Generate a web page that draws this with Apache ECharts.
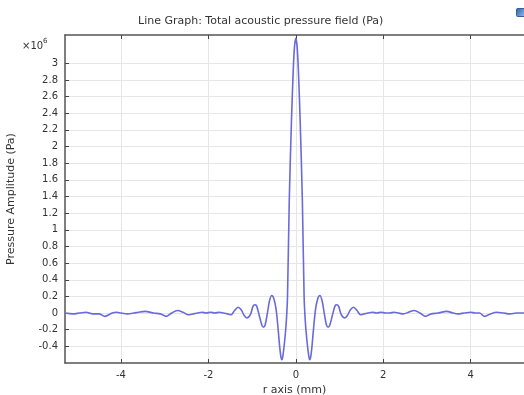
<!DOCTYPE html>
<html>
<head>
<meta charset="utf-8">
<script src="https://cdn.jsdelivr.net/npm/echarts@6/dist/echarts.min.js"></script>
<style>
  html, body { margin: 0; padding: 0; background: #fff; }
  #chart { width: 524px; height: 395px; }
</style>
</head>
<body>
<div id="chart"></div>
<script>
// r axis (mm)
const rValues = [
  -5.28, -5.1, -4.95, -4.8, -4.65, -4.5, -4.37, -4.2, -4.1, -4.0, -3.85, -3.7, -3.6, -3.45, -3.25,
  -3.1, -2.96, -2.84, -2.71, -2.58, -2.46, -2.35, -2.25, -2.15, -2.05, -1.95, -1.85, -1.75, -1.65,
  -1.56, -1.48, -1.4, -1.32, -1.25, -1.18, -1.12, -1.04, -0.98, -0.94, -0.9, -0.84, -0.78, -0.74,
  -0.7, -0.65, -0.6, -0.55, -0.5, -0.45, -0.4, -0.37, -0.34, -0.32, -0.3, -0.26, -0.22, -0.19, -0.15, -0.1, -0.06, -0.03,
  0,
  0.03, 0.06, 0.1, 0.15, 0.19, 0.22, 0.26, 0.3, 0.32, 0.34, 0.37, 0.4, 0.45, 0.5, 0.55, 0.6, 0.65, 0.7, 0.74, 0.78,
  0.84, 0.9, 0.94, 0.98, 1.04, 1.12, 1.18, 1.25, 1.32, 1.4, 1.48, 1.56, 1.65, 1.75, 1.85, 1.95,
  2.05, 2.15, 2.25, 2.35, 2.46, 2.58, 2.71, 2.84, 2.96, 3.1, 3.25, 3.45, 3.6, 3.7, 3.85, 4.0, 4.1,
  4.2, 4.32, 4.45, 4.6, 4.75, 4.9, 5.05, 5.22
];
// pressure amplitude (x10^6 Pa)
const pressure = [
  0.0, -0.01, 0.0, 0.01, -0.01, -0.01, -0.04, 0.0, 0.01, 0.0, -0.01, 0.0, 0.01, 0.02, 0.0,
  -0.01, -0.04, 0.0, 0.03, 0.01, -0.02, -0.01, 0.0, 0.01, 0.0, 0.01, 0.0, 0.01, 0.0,
  -0.01, -0.02, 0.03, 0.07, 0.04, -0.03, -0.06, -0.02, 0.08, 0.1, 0.09, -0.02, -0.14, -0.17,
  -0.14, 0.0, 0.15, 0.21, 0.17, 0.04, -0.22, -0.4, -0.53, -0.56, -0.53, -0.36, -0.12, 0.2, 1.35, 2.3, 2.9, 3.2,
  3.3,
  3.2, 2.9, 2.3, 1.35, 0.2, -0.12, -0.36, -0.53, -0.56, -0.53, -0.4, -0.22, 0.04, 0.17, 0.21, 0.15, 0.0, -0.14, -0.17, -0.14,
  -0.02, 0.09, 0.1, 0.08, -0.02, -0.06, -0.03, 0.04, 0.07, 0.03, -0.02, -0.01, 0.0, 0.01, 0.0, 0.01,
  0.0, 0.0, 0.01, 0.0, -0.01, 0.01, 0.03, 0.0, -0.04, -0.01, 0.0, 0.02, 0.0, -0.01, 0.0, 0.01, 0.0,
  0.0, -0.04, -0.01, 0.01, 0.0, -0.01, 0.0, 0.0
];
const xTicks = [-4, -2, 0, 2, 4];
const yTicks = [-0.4, -0.2, 0, 0.2, 0.4, 0.6, 0.8, 1, 1.2, 1.4, 1.6, 1.8, 2, 2.2, 2.4, 2.6, 2.8, 3];

const font = 'DejaVu Sans';
const chart = echarts.init(document.getElementById('chart'));

const gridLine = { show: true, lineStyle: { color: '#e6e6e6', width: 1 } };
const frameLine = { show: true, onZero: false, lineStyle: { color: '#555', width: 1.5 } };

chart.setOption({
  animation: false,
  backgroundColor: '#fff',
  title: {
    text: 'Line Graph: Total acoustic pressure field (Pa)',
    left: 133,
    top: 11,
    textStyle: { fontFamily: font, fontSize: 11, fontWeight: 'normal', color: '#333' }
  },
  grid: { left: 65, right: 0, top: 35, bottom: 32, containLabel: false, outerBoundsMode: 'none' },
  xAxis: [
    {
      type: 'value',
      min: -5.28,
      max: 5.22,
      name: 'r axis (mm)',
      nameLocation: 'middle',
      nameGap: 19,
      nameTextStyle: { fontFamily: font, fontSize: 11, color: '#333' },
      axisLine: frameLine,
      axisTick: { show: true, inside: true, length: 4, customValues: xTicks, lineStyle: { color: '#444' } },
      axisLabel: { customValues: xTicks, fontFamily: font, fontSize: 10, color: '#333', margin: 7 },
      splitLine: gridLine
    },
    {
      type: 'value',
      position: 'top',
      min: -5.28,
      max: 5.22,
      axisLine: frameLine,
      axisTick: { show: true, inside: true, length: 4, customValues: xTicks, lineStyle: { color: '#444' } },
      axisLabel: { show: false },
      splitLine: { show: false }
    }
  ],
  yAxis: {
    type: 'value',
    min: -0.6,
    max: 3.34,
    name: 'Pressure Amplitude (Pa)',
    nameLocation: 'middle',
    nameGap: 48,
    nameTextStyle: { fontFamily: font, fontSize: 11, color: '#333' },
    axisLine: frameLine,
    axisTick: { show: true, inside: true, length: 4, customValues: yTicks, lineStyle: { color: '#444' } },
    axisLabel: {
      customValues: yTicks,
      fontFamily: font,
      fontSize: 10,
      color: '#333',
      margin: 7,
      formatter: v => String(Math.round(v * 10) / 10)
    },
    splitLine: gridLine
  },
  graphic: [
    {
      type: 'text',
      left: 22,
      top: 38,
      style: {
        text: '{b|×10}{s|6}',
        rich: {
          b: { fontFamily: font, fontSize: 10, fill: '#333', verticalAlign: 'bottom' },
          s: { fontFamily: font, fontSize: 7, fill: '#333', verticalAlign: 'top', padding: [0, 0, 6, 0] }
        }
      }
    },
    {
      type: 'rect',
      left: 516,
      top: 8,
      shape: { width: 9, height: 8, r: 1 },
      style: {
        fill: new echarts.graphic.LinearGradient(0, 0, 1, 1, [
          { offset: 0, color: '#2a5ca8' },
          { offset: 1, color: '#9cc8ec' }
        ]),
        stroke: '#3a5f95',
        lineWidth: 1
      }
    }
  ],
  series: [{
    type: 'line',
    data: rValues.map((r, i) => [r, pressure[i]]),
    smooth: 0.3,
    showSymbol: false,
    clip: true,
    lineStyle: { color: '#6a6adb', width: 1.6 }
  }]
});
</script>
</body>
</html>
